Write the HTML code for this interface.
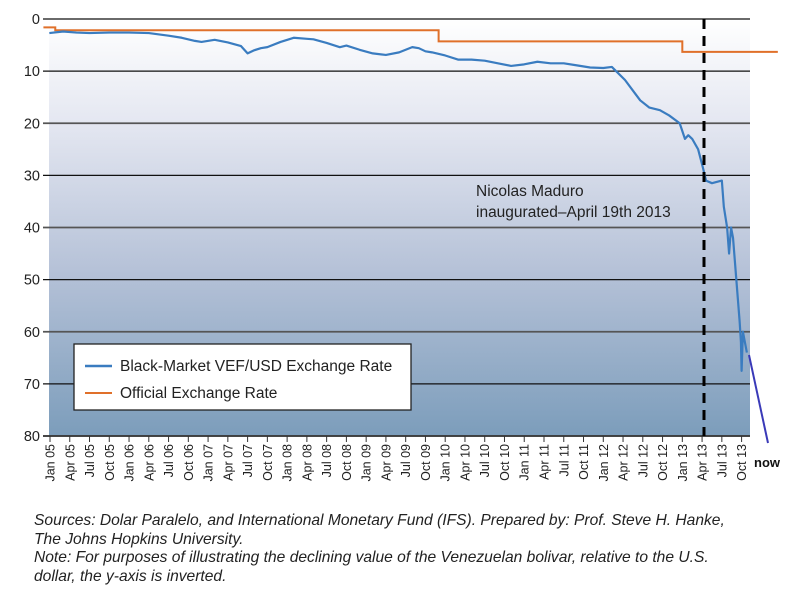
<!DOCTYPE html>
<html><head><meta charset="utf-8">
<style>
html,body{margin:0;padding:0;background:#fff;}
body{width:790px;height:597px;overflow:hidden;font-family:"Liberation Sans",sans-serif;}
svg{display:block}
.foot{position:absolute;left:34px;top:512px;font-style:italic;font-size:15.6px;line-height:18.5px;color:#222;width:780px;white-space:nowrap}
</style></head>
<body>
<svg id="chart" width="790" height="597" viewBox="0 0 790 597" style="position:absolute;left:0;top:0">
<defs>
<linearGradient id="bg" x1="0" y1="0" x2="0" y2="1">
<stop offset="0" stop-color="#ffffff"/>
<stop offset="0.25" stop-color="#e4e7f1"/>
<stop offset="0.6" stop-color="#b6c2d8"/>
<stop offset="1" stop-color="#7c9dbb"/>
</linearGradient>
</defs>
<rect x="49" y="19" width="701" height="417" fill="url(#bg)"/>
<g id="grid"></g>
<g id="yticks"></g>
<g id="xticks"></g>
<polyline id="official" fill="none" stroke="#e0702a" stroke-width="2"/>
<polyline id="black" fill="none" stroke="#3a7cc0" stroke-width="2.2" stroke-linejoin="round"/>
<line x1="704" y1="19" x2="704" y2="436" stroke="#000" stroke-width="3" stroke-dasharray="10,7"/>
<line x1="749" y1="355" x2="768" y2="443" stroke="#3a3ab8" stroke-width="2"/>
<text x="754" y="467" font-size="13" font-weight="bold" fill="#111">now</text>
<text font-size="15.5" fill="#222"><tspan x="476" y="196">Nicolas Maduro</tspan><tspan x="476" y="217">inaugurated–April 19th 2013</tspan></text>
<g>
<rect x="74" y="344" width="337" height="66" fill="#fff" stroke="#222" stroke-width="1.3"/>
<line x1="85" y1="366" x2="112" y2="366" stroke="#3a7cc0" stroke-width="2.5"/>
<text x="120" y="371" font-size="15.5" fill="#222">Black-Market VEF/USD Exchange Rate</text>
<line x1="85" y1="393" x2="112" y2="393" stroke="#e0702a" stroke-width="2"/>
<text x="120" y="398" font-size="15.5" fill="#222">Official Exchange Rate</text>
</g>
</svg>
<div class="foot">Sources: Dolar Paralelo, and International Monetary Fund (IFS). Prepared by: Prof. Steve H. Hanke,<br>The Johns Hopkins University.<br>Note: For purposes of illustrating the declining value of the Venezuelan bolivar, relative to the U.S.<br>dollar, the y-axis is inverted.</div>
<script>
const yTicks=[0,10,20,30,40,50,60,70,80];
const xLabels=["Jan 05","Apr 05","Jul 05","Oct 05","Jan 06","Apr 06","Jul 06","Oct 06","Jan 07","Apr 07","Jul 07","Oct 07","Jan 08","Apr 08","Jul 08","Oct 08","Jan 09","Apr 09","Jul 09","Oct 09","Jan 10","Apr 10","Jul 10","Oct 10","Jan 11","Apr 11","Jul 11","Oct 11","Jan 12","Apr 12","Jul 12","Oct 12","Jan 13","Apr 13","Jul 13","Oct 13"];
// months since Jan 2005
const blackMonths=[-0.1,2,4,6,9,12,15,18,20,22,23,25,27,29,30,31,32,33,35,37,39,40,42,44,45,47,49,51,53,55,56,57,58,60,62,64,66,68,70,72,74,76,78,80,82,84,85.3,87.3,89.6,91,92.6,94,95.6,96.4,96.9,97.5,98.4,99.1,99.6,100.5,102,102.3,102.8,103.1,103.4,103.7,104.2,104.7,104.9,105.0,105.2,105.5,105.8];
const blackValues=[2.7,2.4,2.6,2.7,2.6,2.6,2.7,3.2,3.6,4.2,4.4,4.0,4.5,5.2,6.6,6.0,5.6,5.4,4.4,3.6,3.8,3.9,4.6,5.4,5.1,5.9,6.6,6.9,6.4,5.4,5.6,6.2,6.4,7.0,7.8,7.8,8.0,8.5,9.0,8.7,8.2,8.5,8.5,8.9,9.3,9.4,9.2,11.7,15.6,17,17.5,18.5,20,23,22.3,23,25,28.4,31,31.5,31,36,40,45,40,42,50,58,62,67.5,60,62,64];
const officialMonths=[-1,0.8,0.8,59,59,96,96,110.5];
const officialValues=[1.6,1.6,2.15,2.15,4.3,4.3,6.3,6.3];
const X0=50, DX=19.76/3, Y0=19, DY=417/80;
const xs=m=>X0+m*DX, ys=v=>Y0+v*DY;
const NS="http://www.w3.org/2000/svg";
const grid=document.getElementById('grid'), yt=document.getElementById('yticks'), xt=document.getElementById('xticks');
yTicks.forEach((v,i)=>{
 const l=document.createElementNS(NS,'line');
 
 
 l.setAttribute('x1',43);l.setAttribute('x2',750);l.setAttribute('y1',ys(v));l.setAttribute('y2',ys(v));
 l.setAttribute('stroke',i%2===0?'#555':'#111');l.setAttribute('stroke-width',i%2===0?1.8:1.2);
 grid.appendChild(l);
 const t=document.createElementNS(NS,'text');
 
 
 t.setAttribute('x',40);t.setAttribute('y',ys(v)+5);t.setAttribute('text-anchor','end');t.setAttribute('font-size','14.5');t.setAttribute('fill','#222');
 t.textContent=v;yt.appendChild(t);
});
xLabels.forEach((s,i)=>{
 const x=xs(i*3);
 const l=document.createElementNS(NS,'line');
 
 
 l.setAttribute('x1',x);l.setAttribute('x2',x);l.setAttribute('y1',436);l.setAttribute('y2',442);l.setAttribute('stroke','#333');
 xt.appendChild(l);
 const t=document.createElementNS(NS,'text');
 
 
 t.setAttribute('transform','translate('+(x+4.5)+',444) rotate(-90)');t.setAttribute('text-anchor','end');t.setAttribute('font-size','12.5');t.setAttribute('fill','#222');
 t.textContent=s;xt.appendChild(t);
});
const ax=document.createElementNS(NS,'line');


ax.setAttribute('x1',43);ax.setAttribute('x2',750);ax.setAttribute('y1',436);ax.setAttribute('y2',436);ax.setAttribute('stroke','#333');ax.setAttribute('stroke-width',1.5);
xt.appendChild(ax);
document.getElementById('black').setAttribute('points',blackMonths.map((m,i)=>xs(m)+','+ys(blackValues[i])).join(' '));
document.getElementById('official').setAttribute('points',officialMonths.map((m,i)=>xs(m)+','+ys(officialValues[i])).join(' '));
</script>
</body></html>
